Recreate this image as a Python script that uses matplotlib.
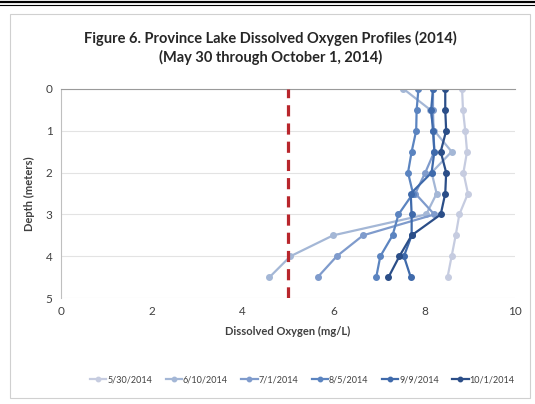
import matplotlib.pyplot as plt
from matplotlib.lines import Line2D
from matplotlib.patches import Rectangle

# depths (m) and dissolved oxygen (mg/L) per sampling date
depth = [0, 0.5, 1.0, 1.5, 2.0, 2.5, 3.0, 3.5, 4.0, 4.5]
do_0530 = [8.83, 8.85, 8.90, 8.94, 8.86, 8.96, 8.77, 8.69, 8.60, 8.51]
do_0610 = [7.54, 8.13, 8.22, 8.60, 8.16, 8.27, 8.04, 5.99, 5.05, 4.59]
do_0701 = [8.19, 8.19, 8.20, 8.22, 8.02, 7.80, 8.22, 6.65, 6.07, 5.65]
do_0805 = [7.87, 7.83, 7.82, 7.72, 7.64, 7.75, 7.43, 7.30, 7.03, 6.94]
do_0909 = [8.19, 8.15, 8.19, 8.22, 8.16, 7.70, 7.72, 7.72, 7.55, 7.70]
do_1001 = [8.46, 8.46, 8.48, 8.36, 8.48, 8.46, 8.36, 7.72, 7.45, 7.21]

labels = ['5/30/2014', '6/10/2014', '7/1/2014', '8/5/2014', '9/9/2014', '10/1/2014']
series = [do_0530, do_0610, do_0701, do_0805, do_0909, do_1001]
colors = ['#c6cce0', '#a4b7d6', '#7f9bcc', '#5b84c0', '#3f6aab', '#2b4e88']
threshold = 5.0

plt.rcParams['font.family'] = ['Lato', 'DejaVu Sans']

fig = plt.figure(figsize=(5.35, 4.04), dpi=100)
ax = fig.add_axes([0.114, 0.262, 0.849, 0.518])

# chart frame and top rule
fig.add_artist(Rectangle((10 / 535, 6 / 404), 520 / 535, 384 / 404, transform=fig.transFigure,
                         fill=False, edgecolor='#d0d0d0', lw=0.8))
fig.add_artist(Line2D([0, 1], [1 - 1.5 / 404, 1 - 1.5 / 404], transform=fig.transFigure, color='black', lw=1.6))
fig.add_artist(Line2D([0, 1], [1 - 5 / 404, 1 - 5 / 404], transform=fig.transFigure, color='black', lw=0.8))

for vals, lab, c in zip(series, labels, colors):
    ax.plot(vals, depth, '-o', color=c, lw=1.6, ms=4, label=lab)

ax.axvline(threshold, color='#b8262c', lw=2.3, ls=(0, (3.5, 2.2)), zorder=5)

ax.set_xlim(0, 10)
ax.set_ylim(5, 0)
ax.set_xticks(range(0, 11, 2))
ax.set_yticks(range(0, 6))
ax.grid(axis='y', color='#e3e3e3', lw=0.8)
ax.set_axisbelow(True)
for s in ['right', 'bottom']:
    ax.spines[s].set_visible(False)
ax.spines['left'].set_color('#bfbfbf')
ax.spines['top'].set_color('#9a9a9a')
ax.tick_params(length=0, labelsize=8.5, labelcolor='#404040', pad=6)

ax.set_xlabel('Dissolved Oxygen (mg/L)', fontsize=8, fontweight='bold', color='#404040', labelpad=6)
ax.set_ylabel('Depth (meters)', fontsize=8, fontweight='bold', color='#404040', labelpad=8)

fig.text(0.505, 0.905, 'Figure 6. Province Lake Dissolved Oxygen Profiles (2014)',
         ha='center', va='center', fontsize=10.5, fontweight='bold', color='#262626')
fig.text(0.505, 0.857, '(May 30 through October 1, 2014)',
         ha='center', va='center', fontsize=10.5, fontweight='bold', color='#262626')

fig.legend(loc='center', bbox_to_anchor=(0.565, 0.06), ncol=6, frameon=False, fontsize=6.5,
           handlelength=1.8, handletextpad=0.1, columnspacing=1.5, markerscale=0.8,
           labelcolor='#404040')

plt.savefig('out.png', dpi=100)
